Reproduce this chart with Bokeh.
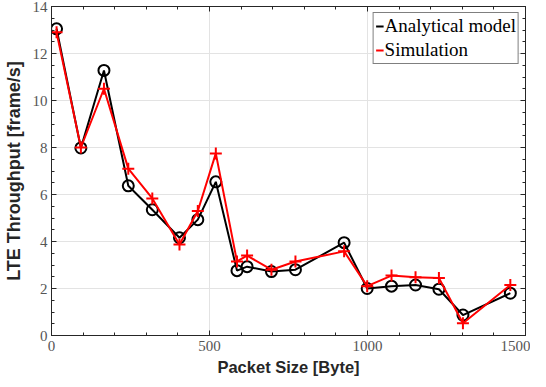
from bokeh.plotting import figure
from bokeh.models import LinearAxis, SingleIntervalTicker, Range1d, Legend, LegendItem
from bokeh.embed import file_html
from bokeh.resources import INLINE

packet_size = [16, 93, 166, 243, 319, 405, 463, 520, 587, 619, 696, 772, 926, 999, 1076, 1152, 1226, 1302, 1452]
analytical = [13.05, 7.98, 11.28, 6.37, 5.35, 4.16, 4.93, 6.54, 2.76, 2.93, 2.72, 2.8, 3.95, 2.0, 2.1, 2.15, 1.97, 0.87, 1.8]
simulation = [12.9, 8.0, 10.5, 7.1, 5.83, 3.87, 5.3, 7.75, 3.15, 3.4, 2.8, 3.15, 3.58, 2.1, 2.55, 2.48, 2.45, 0.52, 2.15]

x_label = "Packet Size [Byte]"
y_label = "LTE Throughput [frame/s]"
series_names = ["Analytical model", "Simulation"]

axis_col = "#262626"
tick_col = "#555555"

p = figure(width=530, height=378, output_backend="svg", toolbar_location=None,
           x_range=Range1d(0, 1500), y_range=Range1d(0, 14),
           min_border_left=42, min_border_right=5, min_border_top=6, min_border_bottom=40)
p.background_fill_color = "white"
p.border_fill_color = "white"
p.outline_line_color = axis_col
p.outline_line_width = 1

xt = SingleIntervalTicker(interval=500, num_minor_ticks=5)
yt = SingleIntervalTicker(interval=2, num_minor_ticks=4)
p.xaxis.ticker = xt
p.yaxis.ticker = yt
p.xgrid.ticker = xt
p.ygrid.ticker = yt
p.grid.grid_line_color = "#e3e3e3"
p.grid.grid_line_width = 1

for ax in (p.xaxis[0], p.yaxis[0]):
    ax.axis_line_color = axis_col
    ax.major_tick_line_color = axis_col
    ax.minor_tick_line_color = axis_col
    ax.major_tick_in = 5
    ax.major_tick_out = 0
    ax.minor_tick_in = 3
    ax.minor_tick_out = 0
    ax.major_label_text_font = "Liberation Serif"
    ax.major_label_text_font_size = "15px"
    ax.major_label_text_color = tick_col
    ax.axis_label_text_font = "Liberation Sans"
    ax.axis_label_text_font_style = "bold"
    ax.axis_label_text_color = axis_col

p.xaxis.axis_label = x_label
p.yaxis.axis_label = y_label
p.xaxis.axis_label_text_font_size = "16.5px"
p.yaxis.axis_label_text_font_size = "18px"
p.xaxis.major_label_standoff = 5
p.yaxis.major_label_standoff = 4
p.xaxis.axis_label_standoff = 4
p.yaxis.axis_label_standoff = 6

for loc, tk in (("right", yt), ("above", xt)):
    ax = LinearAxis(ticker=tk)
    ax.major_label_text_font_size = "0px"
    ax.major_label_standoff = 0
    ax.axis_line_color = axis_col
    ax.major_tick_line_color = axis_col
    ax.minor_tick_line_color = axis_col
    ax.major_tick_in = 5
    ax.major_tick_out = 0
    ax.minor_tick_in = 3
    ax.minor_tick_out = 0
    p.add_layout(ax, loc)

l1 = p.line(packet_size, analytical, line_color="black", line_width=2)
p.scatter(packet_size, analytical, marker="circle", size=11, fill_color=None,
          line_color="black", line_width=2)
l2 = p.line(packet_size, simulation, line_color="red", line_width=2)
p.scatter(packet_size, simulation, marker="cross", size=12,
          line_color="red", line_width=2)

legend = Legend(items=[LegendItem(label=series_names[0], renderers=[l1]),
                       LegendItem(label=series_names[1], renderers=[l2])],
                location="top_right")
legend.label_text_font = "Liberation Serif"
legend.label_text_font_size = "19px"
legend.label_text_color = "black"
legend.glyph_width = 8
legend.glyph_height = 20
legend.label_height = 20
legend.label_standoff = 1
legend.padding = 2
legend.spacing = 2
legend.margin = 6
legend.border_line_color = "black"
legend.border_line_width = 1
legend.background_fill_alpha = 1
p.add_layout(legend)

open("out.html", "w").write(file_html(p, INLINE))
